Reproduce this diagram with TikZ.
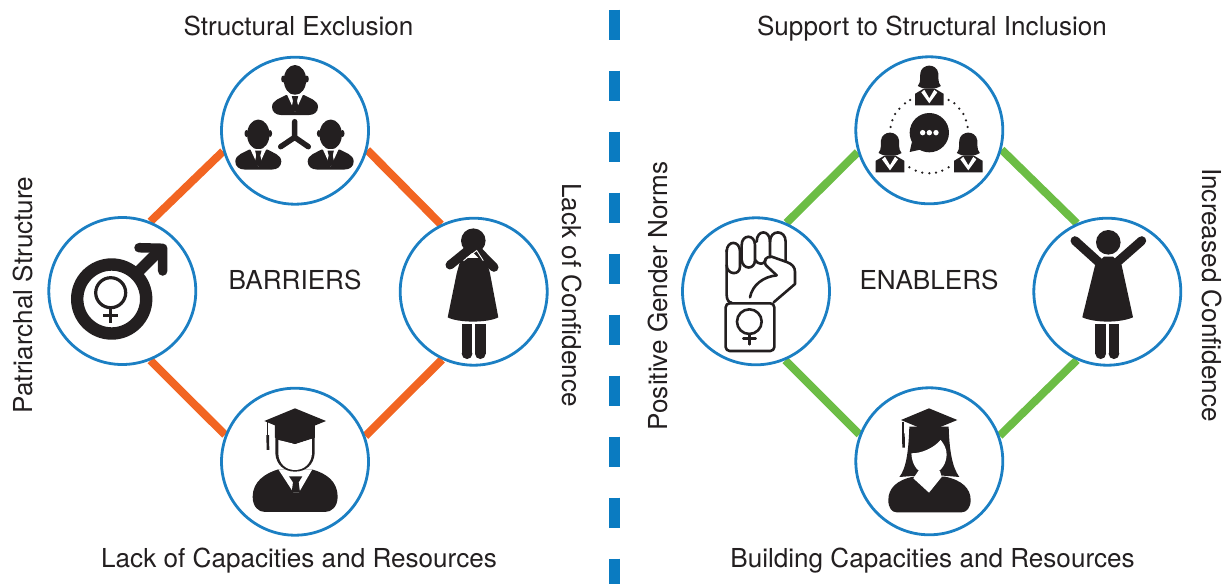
\documentclass[tikz,border=0pt]{standalone}
\usepackage{fontspec}
\setmainfont{TeX Gyre Heros}
\usetikzlibrary{backgrounds}
\definecolor{ink}{HTML}{231F20}
\definecolor{ringblue}{HTML}{1B7FC3}
\definecolor{dashblue}{HTML}{0A7BC1}
\definecolor{barrier}{HTML}{F26522}
\definecolor{enabler}{HTML}{6CBD45}
\tikzset{
  hub/.style={circle,draw=ringblue,line width=2.8pt,fill=white,minimum size=147pt,inner sep=0pt},
  lab/.style={text=ink,font=\fontsize{26.1}{30}\selectfont,inner sep=0pt,anchor=base},
  orangelink/.style={draw=barrier,line width=8pt},
  greenlink/.style={draw=enabler,line width=8pt},
  outline ink/.style={draw=ink,line width=2.6pt,line cap=round,line join=round},
  pics/manbust/.style={code={
    \fill[ink] (0,0) ellipse (11.2 and 15);
    \fill[ink] (-11.8,-1) ellipse (2 and 3.5);
    \fill[ink] (11.8,-1) ellipse (2 and 3.5);
    \fill[ink] (-9,15) .. controls (-14,18) and (-23,20) .. (-23,27)
       .. controls (-23,32) and (-19,35) .. (-14,35) -- (14,35)
       .. controls (19,35) and (23,32) .. (23,27)
       .. controls (23,20) and (14,18) .. (9,15) -- cycle;
    \fill[white] (-8,14.5) -- (0,32) -- (8,14.5) -- cycle;
    \fill[ink] (-3.2,16) -- (3.2,16) -- (2,21) -- (3.5,28) -- (0,32) -- (-3.5,28) -- (-2,21) -- cycle;
  }},
  pics/womanbust/.style={code={
    \fill[ink] (-11.5,7.7) .. controls (-8,4) and (-9.5,-3) .. (-9,-5)
       .. controls (-8.5,-10) and (-4,-12.7) .. (0,-12.7)
       .. controls (4,-12.7) and (8.5,-10) .. (9,-5)
       .. controls (9.5,-3) and (8,4) .. (11.5,7.7)
       .. controls (7,10) .. (3,10) -- (-3,10) .. controls (-7,10) .. cycle;
    \fill[ink] (-14.3,27) -- (-14.3,15.5) -- (-5,10) -- (5,10) -- (14.3,15.5) -- (14.3,27) -- cycle;
    \fill[white] (-8,14) -- (0,25) -- (8,14) -- (5,11.5) -- (0,20) -- (-5,11.5) -- cycle;
  }},
  pics/dressbody/.style={code={
    \fill[ink] (-12,32.5) rectangle (-1.3,62);
    \fill[ink] (-6.65,62) circle (5.35);
    \fill[ink] (1.3,32.5) rectangle (12,62);
    \fill[ink] (6.65,62) circle (5.35);
  }}
}
\begin{document}
\begin{tikzpicture}[x=1pt,y=-1pt]
\useasboundingbox (0,0) rectangle (1224,584);
% divider
\coordinate (dashtop) at (614.5,9.5);
\coordinate (dashend) at (614.5,584);
\draw[dashblue,line width=10.7pt,dash pattern=on 30.5pt off 30.5pt] (dashtop) -- (dashend);
% hubs
\node[hub] (bt) at (295,130.7) {};
\node[hub] (bl) at (122.3,291) {};
\node[hub] (br) at (473.7,291.7) {};
\node[hub] (bb) at (295,461.7) {};
\node[hub] (et) at (929.3,130.3) {};
\node[hub] (el) at (756,291.3) {};
\node[hub] (er) at (1107.3,291.7) {};
\node[hub] (eb) at (929.3,461.3) {};
% connectors
\begin{scope}[on background layer]
\draw[orangelink] (bl.68) -- (bt.196);
\draw[orangelink] (bt.-15) -- (br.116.5);
\draw[orangelink] (br.245.6) -- (bb.20);
\draw[orangelink] (bb.159) -- (bl.-68);
\draw[greenlink] (el.66.6) -- (et.197);
\draw[greenlink] (et.-15) -- (er.114);
\draw[greenlink] (er.246) -- (eb.20);
\draw[greenlink] (eb.159) -- (el.-67);
\end{scope}
% labels
\node[lab] (t1) at (298.5,35.5) {Structural Exclusion};
\node[lab] (t2) at (932,35.5) {Support to Structural Inclusion};
\node[lab] (t3) at (299,567.5) {Lack of Capacities and Resources};
\node[lab] (t4) at (932.5,567.5) {Building Capacities and Resources};
\node[lab,rotate=90] (t5) at (32,295) {Patriarchal Structure};
\node[lab,rotate=-90] (t6) at (562,295) {Lack of Confidence};
\node[lab,rotate=90] (t7) at (667,296) {Positive Gender Norms};
\node[lab,rotate=-90] (t8) at (1202,295) {Increased Confidence};
\node[lab] (t9) at (295,289) {BARRIERS};
\node[lab] (t10) at (929,289) {ENABLERS};
% three men
\pic at (295,80) {manbust};
\pic at (258.3,134.5) {manbust};
\pic at (330.7,134.5) {manbust};
\draw[ink,line width=5.5pt,line cap=round,line join=round]
  (294.7,121.7) -- (294.7,137.3) (280.7,146.7) -- (294.7,137.3) -- (308.3,146.7);
% mars / venus
\draw[ink,line width=12.4pt] (111.7,299) circle (34.5);
\draw[ink,line width=11pt] (134,276) -- (158,252);
\draw[ink,line width=9.5pt,line cap=round,line join=round] (139,247.7) -- (162.7,248.3) -- (162.7,271);
\draw[ink,line width=3.2pt] (110.7,292.7) circle (15);
\draw[ink,line width=3.5pt] (110.7,307.7) -- (110.7,322.7) (103.3,315.3) -- (118.3,315.3);
% woman hiding
\pic at (473.7,291.7) {dressbody};
\fill[ink] (473.3,240.7) circle (12.3);
\fill[ink] (456.7,273.3) -- (447.7,317.3) .. controls (458,323) and (488,323) .. (498.3,317.3) -- (490,273.3) -- (486,258) -- (461,258) -- cycle;
\draw[ink,line width=9pt,line cap=round] (494,267.3) -- (477,250);
\draw[ink,line width=9pt,line cap=round] (450,265) -- (476.7,243.3);
\draw[white,line width=.9pt] (463.5,260.7) -- (476.7,250.5) -- (483.3,260.7);
% graduate man
\begin{scope}[shift={(215,385)},x=.3333pt,y=-.3333pt]
\fill[ink] (113,335) .. controls (113,290) and (150,265) .. (190,253) -- (290,253)
  .. controls (335,265) and (368,290) .. (368,335)
  .. controls (368,365) and (350,381) .. (330,381) -- (150,381)
  .. controls (130,381) and (113,365) .. (113,335) -- cycle;
\fill[white] (190,253) -- (235,322) -- (252,322) -- (292,253) -- cycle;
\fill[ink] (222,274) -- (262,274) -- (251,292) -- (255,322) -- (230,322) -- (234,292) -- cycle;
\fill[ink] (181,125) -- (181,205) .. controls (183,238) and (207,260) .. (240,260)
  .. controls (273,260) and (297,238) .. (299,205) -- (299,125) -- cycle;
\fill[white] (190,165) -- (240,177) -- (291,160) -- (291,205)
  .. controls (289,235) and (268,255) .. (240,255)
  .. controls (212,255) and (191,235) .. (190,205) -- cycle;
\fill[ink] (240,70) -- (333,108) -- (240,146) -- (148,108) -- cycle;
\fill[ink] (180,120) -- (300,120) -- (300,158) -- (240,177) -- (180,158) -- cycle;
\draw[ink,line width=1.3pt] (157,112) -- (157,160);
\fill[ink] (154,150) -- (162,150) -- (163,195) -- (155,195) -- cycle;
\end{scope}
% three women and talk
\pic at (929.3,78.3) {womanbust};
\pic at (890,145.3) {womanbust};
\pic at (968.3,145.3) {womanbust};
\begin{scope}[shift={(850,50)},x=.3333pt,y=-.3333pt]
\foreach \p in {(180,150),(165,160),(148,176),(135,192),(127,211),(122,231),(296,150),(313,160),(328,176),(340,192),(348,211),(353,231),(178,352),(197,362),(217,368),(238,370),(258,368),(277,362),(296,352)}
  \fill[ink] \p circle (1.25pt);
\fill[ink] (238,248) circle (59);
\fill[ink] (186,275) -- (179,306) -- (215,298) -- cycle;
\foreach \p in {(218,248),(238,248),(258,248)}
  \fill[white] \p circle (2.7pt);
\end{scope}
% fist
\begin{scope}[shift={(675,210)},x=.3333pt,y=-.3333pt,every path/.append style={outline ink}]
\draw[rounded corners=4pt] (152,280) rectangle (298,423);
\draw (223,335) circle (37);
\draw (223,372) -- (223,403) (205,385) -- (242,385);
\draw (155,125) .. controls (155,90) and (195,90) .. (195,125) -- (195,170) .. controls (195,198) and (155,195) .. (155,165);
\draw (155,120) -- (155,255) .. controls (155,270) and (162,278) .. (170,278);
\draw (200,105) .. controls (200,72) and (240,72) .. (240,105) -- (240,150) .. controls (240,180) and (203,180) .. (200,150) -- (200,105);
\draw (245,95) .. controls (245,58) and (285,58) .. (285,95) -- (285,142);
\draw (240,150) .. controls (250,165) and (268,165) .. (272,150);
\draw (285,95) .. controls (285,58) and (332,58) .. (332,95) -- (332,152);
\draw (272,165) .. controls (265,150) and (272,140) .. (290,140) -- (335,156) .. controls (352,162) and (360,172) .. (360,185) -- (360,222) -- (296,277);
\draw (272,165) -- (305,196);
\draw (225,262) .. controls (232,225) and (265,200) .. (305,196);
\end{scope}
% woman arms up
\pic at (1107.3,291.7) {dressbody};
\fill[ink] (1108.3,242.3) circle (12.3);
\fill[ink] (1095,265.5) -- (1082.3,317.3) .. controls (1095,323) and (1120,323) .. (1133,317.3) -- (1121.6,265) -- (1113,256.7) -- (1104,256.7) -- cycle;
\draw[ink,line width=9pt,line cap=round] (1075,240.7) -- (1100,263.3);
\draw[ink,line width=9pt,line cap=round] (1141.7,240.7) -- (1116,263.3);
% graduate woman
\begin{scope}[shift={(850,385)},x=.3333pt,y=-.3333pt]
\fill[ink] (115,345) .. controls (115,310) and (140,285) .. (190,275) -- (285,275)
  .. controls (335,285) and (362,310) .. (362,345)
  .. controls (362,368) and (350,382) .. (335,382) -- (140,382)
  .. controls (125,382) and (115,368) .. (115,345) -- cycle;
\fill[ink] (178,125) .. controls (176,190) and (170,250) .. (148,276) -- (200,272) -- (280,272) -- (328,276)
  .. controls (305,245) and (298,190) .. (296,125) -- cycle;
\fill[white] (205,258) -- (270,258) -- (275,276) -- (237,323) -- (190,280) -- cycle;
\fill[white] (184,205) .. controls (215,205) and (250,190) .. (272,165) .. controls (282,178) and (290,190) .. (290,210)
  .. controls (288,245) and (265,268) .. (237,268)
  .. controls (208,268) and (186,245) .. (184,205) -- cycle;
\fill[ink] (237,70) -- (322,105) -- (237,140) -- (153,105) -- cycle;
\draw[ink,line width=1.3pt] (159,112) -- (159,150);
\fill[ink] (156,145) -- (164,145) -- (165,188) -- (157,188) -- cycle;
\end{scope}
\end{tikzpicture}
\end{document}
